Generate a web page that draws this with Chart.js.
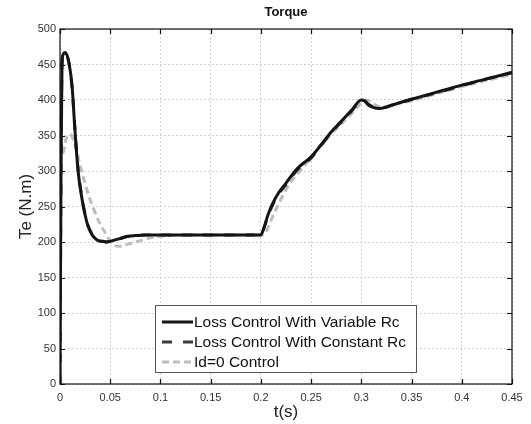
<!DOCTYPE html>
<html>
<head>
<meta charset="utf-8">
<script src="https://cdn.jsdelivr.net/npm/chart.js@4"></script>
<style>
html,body{margin:0;padding:0;background:#fff;}
#wrap{width:531px;height:424px;}
</style>
</head>
<body>
<div id="wrap"><canvas id="c" width="531" height="424"></canvas></div>
<script>
// ---- data ----
const chartTitle = 'Torque';
const xAxisTitle = 't(s)';
const yAxisTitle = 'Te (N.m)';
const seriesNames = ['Loss Control With Variable Rc', 'Loss Control With Constant Rc', 'Id=0 Control'];

const tVar  = [0, 0.001, 0.002, 0.003, 0.005, 0.007, 0.009, 0.012, 0.015, 0.018, 0.022, 0.025, 0.028, 0.032, 0.035, 0.038, 0.042, 0.046, 0.05, 0.055, 0.06, 0.068, 0.075, 0.085, 0.1, 0.15, 0.2, 0.203, 0.207, 0.212, 0.218, 0.225, 0.236, 0.25, 0.26, 0.27, 0.28, 0.29, 0.3, 0.303, 0.307, 0.311, 0.318, 0.325, 0.331, 0.35, 0.38, 0.4, 0.42, 0.45];
const teVar = [0, 300, 450, 464, 467, 463, 452, 420, 355, 300, 260, 238, 222, 210, 205, 202, 201, 200, 201, 203, 205, 208, 209, 210, 210, 210, 210, 220, 238, 255, 270, 283, 303, 320, 337, 355, 370, 385, 400, 399, 393, 390, 388, 390, 393, 401, 413, 421, 428, 439];

const tConst  = [0, 0.001, 0.002, 0.003, 0.005, 0.007, 0.009, 0.012, 0.015, 0.018, 0.022, 0.025, 0.028, 0.032, 0.035, 0.038, 0.042, 0.046, 0.05, 0.055, 0.06, 0.068, 0.075, 0.085, 0.1, 0.15, 0.2, 0.203, 0.207, 0.212, 0.218, 0.225, 0.236, 0.25, 0.26, 0.27, 0.28, 0.29, 0.3, 0.303, 0.307, 0.311, 0.318, 0.325, 0.331, 0.35, 0.38, 0.4, 0.42, 0.45];
const teConst = [0, 295, 447, 462, 465, 462, 451, 418, 357, 302, 262, 239, 223, 211, 205, 202, 201, 200, 201, 203, 205, 208, 209, 210, 210, 210, 210, 219, 236, 253, 268, 281, 301, 318, 336, 354, 369, 384, 399, 399, 394, 391, 389, 390, 393, 401, 412, 420, 428, 438];

const tId  = [0, 0.0005, 0.003, 0.006, 0.01, 0.013, 0.017, 0.022, 0.028, 0.035, 0.04, 0.045, 0.05, 0.055, 0.06, 0.068, 0.075, 0.085, 0.095, 0.11, 0.15, 0.2, 0.205, 0.21, 0.216, 0.229, 0.243, 0.256, 0.27, 0.289, 0.301, 0.305, 0.31, 0.315, 0.32, 0.33, 0.35, 0.38, 0.4, 0.42, 0.45];
const teId = [0, 305, 325, 345, 352, 345, 325, 297, 268, 241, 225, 213, 201, 195, 194, 197, 200, 204, 207, 209, 210, 210, 214, 230, 249, 283, 307, 330, 352, 379, 397, 400, 397, 392, 390, 393, 399, 411, 419, 426, 436];

const xTickValues = [0, 0.05, 0.1, 0.15, 0.2, 0.25, 0.3, 0.35, 0.4, 0.45];
const xTickLabels = ['0', '0.05', '0.1', '0.15', '0.2', '0.25', '0.3', '0.35', '0.4', '0.45'];
const yTickValues = [0, 50, 100, 150, 200, 250, 300, 350, 400, 450, 500];
const yTickLabels = ['0', '50', '100', '150', '200', '250', '300', '350', '400', '450', '500'];

function pts(xs, ys){ return xs.map((x,i)=>({x:x, y:ys[i]})); }

const FONT = '"Liberation Sans", Arial, sans-serif';

const boxPlugin = {
  id: 'boxPlugin',
  afterDatasetsDraw(chart){
    const {ctx, chartArea:a, scales} = chart;
    ctx.save();
    ctx.strokeStyle = '#111';
    ctx.lineWidth = 1.2;
    ctx.setLineDash([]);
    ctx.strokeRect(a.left, a.top, a.right - a.left, a.bottom - a.top);
    const L = 5;
    ctx.beginPath();
    scales.x.ticks.forEach(t => {
      const px = Math.round(scales.x.getPixelForValue(t.value)) + 0.5;
      ctx.moveTo(px, a.bottom); ctx.lineTo(px, a.bottom - L);
      ctx.moveTo(px, a.top); ctx.lineTo(px, a.top + L);
    });
    scales.y.ticks.forEach(t => {
      const py = Math.round(scales.y.getPixelForValue(t.value)) + 0.5;
      ctx.moveTo(a.left, py); ctx.lineTo(a.left + L, py);
      ctx.moveTo(a.right, py); ctx.lineTo(a.right - L, py);
    });
    ctx.stroke();

    // legend box inside plot
    const lx = 155, ly = 305, lw = 261, lh = 67;
    ctx.fillStyle = '#fff';
    ctx.fillRect(lx, ly, lw, lh);
    ctx.strokeStyle = '#555';
    ctx.lineWidth = 1;
    ctx.strokeRect(lx + 0.5, ly + 0.5, lw, lh);
    const rows = [322, 342, 362];
    ctx.font = '15.5px ' + FONT;
    ctx.textBaseline = 'middle';
    ctx.textAlign = 'left';
    chart.data.datasets.forEach((ds, i) => {
      const y = rows[i];
      ctx.strokeStyle = ds.borderColor;
      ctx.lineWidth = ds.borderWidth;
      ctx.setLineDash(ds.borderDash || []);
      ctx.beginPath();
      ctx.moveTo(162, y); ctx.lineTo(193, y);
      ctx.stroke();
      ctx.setLineDash([]);
      ctx.fillStyle = '#111';
      ctx.fillText(ds.label, 194, y + 1);
    });
    ctx.restore();
  }
};

new Chart(document.getElementById('c'), {
  type: 'line',
  data: {
    datasets: [
      { label: seriesNames[0], data: pts(tVar, teVar), borderColor: '#141414', borderWidth: 3, pointRadius: 0, cubicInterpolationMode: 'monotone', order: 1 },
      { label: seriesNames[1], data: pts(tConst, teConst), borderColor: '#3a3a3a', borderWidth: 3, borderDash: [10, 11], pointRadius: 0, cubicInterpolationMode: 'monotone', order: 2 },
      { label: seriesNames[2], data: pts(tId, teId), borderColor: '#bdbdbd', borderWidth: 3, borderDash: [7, 4], pointRadius: 0, cubicInterpolationMode: 'monotone', order: 3 }
    ]
  },
  options: {
    responsive: false,
    animation: false,
    layout: { padding: { left: 0, right: 19, top: 0, bottom: 0 } },
    plugins: {
      legend: { display: false },
      tooltip: { enabled: false },
      title: {
        display: true, text: chartTitle, fullSize: false, color: '#111',
        font: { family: FONT, size: 13, weight: 'bold' },
        padding: { top: 5, bottom: 8.4 }
      }
    },
    scales: {
      x: {
        type: 'linear', min: 0, max: 0.45,
        afterBuildTicks: s => { s.ticks = xTickValues.map(v => ({ value: v })); },
        afterFit: s => { s.height = 40; },
        ticks: {
          callback: (v) => { const i = xTickValues.findIndex(t => Math.abs(t - v) < 1e-9); return i >= 0 ? xTickLabels[i] : ''; },
          color: '#333', font: { family: FONT, size: 11 }, padding: 7, maxRotation: 0, autoSkip: false
        },
        grid: { color: '#d2d2d2', lineWidth: 1, drawTicks: false },
        border: { display: false, dash: [2, 2] },
        title: { display: true, text: xAxisTitle, color: '#222', font: { family: FONT, size: 17 }, padding: { top: 0, bottom: 1 } }
      },
      y: {
        min: 0, max: 500,
        afterBuildTicks: s => { s.ticks = yTickValues.map(v => ({ value: v })); },
        afterFit: s => { s.width = 60; },
        ticks: {
          callback: (v) => { const i = yTickValues.indexOf(v); return i >= 0 ? yTickLabels[i] : ''; },
          color: '#333', font: { family: FONT, size: 11 }, padding: 4, autoSkip: false
        },
        grid: { color: '#d2d2d2', lineWidth: 1, drawTicks: false },
        border: { display: false, dash: [2, 2] },
        title: { display: true, text: yAxisTitle, color: '#222', font: { family: FONT, size: 17 }, padding: { top: 16, bottom: 0 } }
      }
    }
  },
  plugins: [boxPlugin]
});
</script>
</body>
</html>
